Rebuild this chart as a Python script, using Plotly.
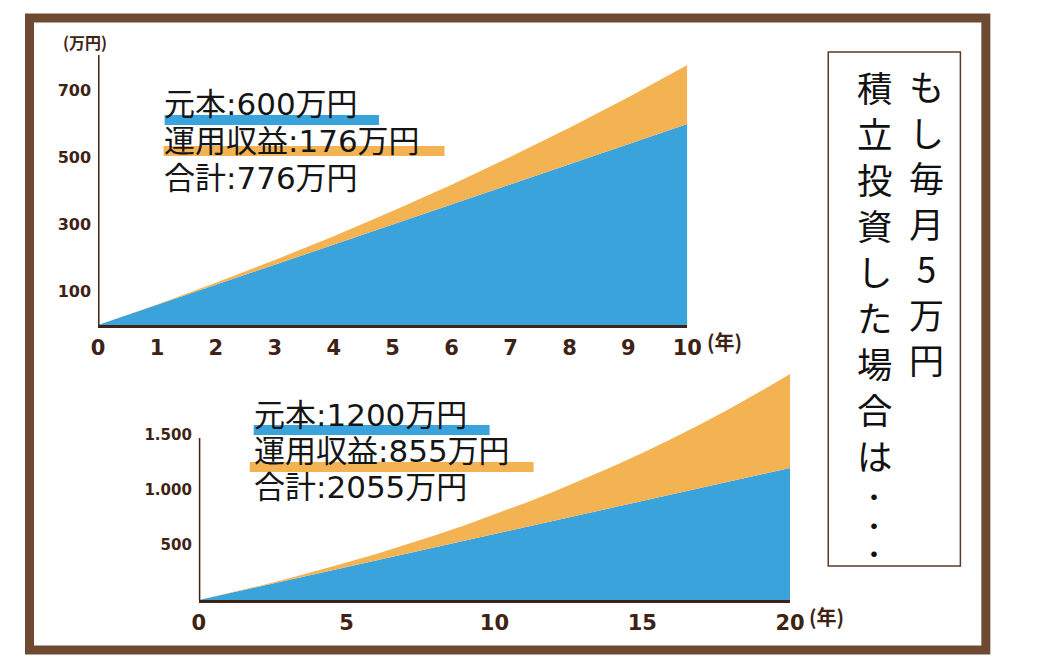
import plotly.graph_objects as go

W, H = 1040, 665

# ---- data ----
years_10 = [0, 1, 2, 3, 4, 5, 6, 7, 8, 9, 10]
principal_10 = [0, 60, 120, 180, 240, 300, 360, 420, 480, 540, 600]
total_10 = [0, 61, 126, 194, 265, 340, 419, 502, 589, 680, 776]

years_20 = [0, 1, 2, 3, 4, 5, 6, 7, 8, 9, 10, 11, 12, 13, 14, 15, 16, 17, 18, 19, 20]
principal_20 = [0, 60, 120, 180, 240, 300, 360, 420, 480, 540, 600,
                660, 720, 780, 840, 900, 960, 1020, 1080, 1140, 1200]
total_20 = [0, 61, 126, 194, 265, 340, 419, 502, 589, 680, 776,
            878, 984, 1096, 1213, 1337, 1466, 1603, 1746, 1897, 2055]

x_ticks_10 = [0, 1, 2, 3, 4, 5, 6, 7, 8, 9, 10]
x_labels_10 = ["0", "1", "2", "3", "4", "5", "6", "7", "8", "9", "10"]
y_ticks_10 = [100, 300, 500, 700]
y_labels_10 = ["100", "300", "500", "700"]

x_ticks_20 = [0, 5, 10, 15, 20]
x_labels_20 = ["0", "5", "10", "15", "20"]
y_ticks_20 = [500, 1000, 1500]
y_labels_20 = ["500", "1.000", "1.500"]

summary_10 = ["元本:600万円", "運用収益:176万円", "合計:776万円"]
summary_20 = ["元本:1200万円", "運用収益:855万円", "合計:2055万円"]
title_right = ["も", "し", "毎", "月", "5", "万", "円"]
title_left = ["積", "立", "投", "資", "し", "た", "場", "合", "は"]
title_dots = ["・", "・", "・"]

# ---- style ----
BLUE = "#3ba3dc"
ORANGE = "#f3b352"
BROWN = "#3e2315"
FRAME = "#6e4a33"
TXT_FONT = "DejaVu Sans, Noto Sans CJK JP, sans-serif"
TICK_FONT = "DejaVu Sans, sans-serif"


def px(x):
    return x / W


def py(y):
    return 1 - y / H


fig = go.Figure()

# top chart
fig.add_trace(go.Scatter(x=years_10, y=principal_10, mode="lines", fill="tozeroy",
                         fillcolor=BLUE, line=dict(width=0, color=BLUE),
                         hoverinfo="skip", xaxis="x", yaxis="y", showlegend=False))
fig.add_trace(go.Scatter(x=years_10, y=total_10, mode="lines", fill="tonexty",
                         fillcolor=ORANGE, line=dict(width=0, color=ORANGE),
                         hoverinfo="skip", xaxis="x", yaxis="y", showlegend=False))
# bottom chart
fig.add_trace(go.Scatter(x=years_20, y=principal_20, mode="lines", fill="tozeroy",
                         fillcolor=BLUE, line=dict(width=0, color=BLUE),
                         hoverinfo="skip", xaxis="x2", yaxis="y2", showlegend=False))
fig.add_trace(go.Scatter(x=years_20, y=total_20, mode="lines", fill="tonexty",
                         fillcolor=ORANGE, line=dict(width=0, color=ORANGE),
                         hoverinfo="skip", xaxis="x2", yaxis="y2", showlegend=False))

top_scale = 0.335  # px per unit
bot_scale = 0.11

xaxis_common = dict(showline=True, linecolor=BROWN, linewidth=3, ticks="",
                    showgrid=False, zeroline=False, fixedrange=True,
                    tickfont=dict(family=TICK_FONT, size=21, color=BROWN, weight="bold"),
                    ticklabelstandoff=2)
yaxis_common = dict(showline=False, ticks="", showgrid=False, zeroline=False,
                    fixedrange=True, ticklabelstandoff=6)

fig.update_layout(
    width=W, height=H,
    margin=dict(l=0, r=0, t=0, b=0),
    paper_bgcolor="white", plot_bgcolor="rgba(0,0,0,0)",
    xaxis=dict(domain=[px(93), px(695)], range=[0, 10], anchor="y",
               tickvals=x_ticks_10, ticktext=x_labels_10, **xaxis_common),
    yaxis=dict(domain=[py(325), py(47)], range=[0, (325 - 47) / top_scale], anchor="x",
               tickvals=y_ticks_10, ticktext=y_labels_10,
               tickfont=dict(family=TICK_FONT, size=16, color=BROWN, weight="bold"),
               **yaxis_common),
    xaxis2=dict(domain=[px(196), px(800)], range=[0, 20], anchor="y2",
                tickvals=x_ticks_20, ticktext=x_labels_20, **xaxis_common),
    yaxis2=dict(domain=[py(600), py(369)], range=[0, (600 - 369) / bot_scale], anchor="x2",
                tickvals=y_ticks_20, ticktext=y_labels_20,
                tickfont=dict(family=TICK_FONT, size=15, color=BROWN, weight="bold"),
                **yaxis_common),
)

shapes = []
# y axis lines
shapes.append(dict(type="line", xref="x", yref="y", x0=0, x1=0, y0=0,
                   y1=(325 - 55) / top_scale, line=dict(color=BROWN, width=3)))
shapes.append(dict(type="line", xref="x2", yref="y2", x0=0, x1=0, y0=0,
                   y1=(600 - 438) / bot_scale, line=dict(color=BROWN, width=3)))
# highlighter strokes
shapes.append(dict(type="line", xref="paper", yref="paper", x0=px(161), x1=px(380),
                   y0=py(120), y1=py(120), line=dict(color=BLUE, width=10), layer="below"))
shapes.append(dict(type="line", xref="paper", yref="paper", x0=px(160), x1=px(447),
                   y0=py(151), y1=py(151), line=dict(color=ORANGE, width=10), layer="below"))
shapes.append(dict(type="line", xref="paper", yref="paper", x0=px(252), x1=px(493),
                   y0=py(430), y1=py(430), line=dict(color=BLUE, width=10), layer="below"))
shapes.append(dict(type="line", xref="paper", yref="paper", x0=px(248), x1=px(538),
                   y0=py(467), y1=py(467), line=dict(color=ORANGE, width=10), layer="below"))
# outer frame
shapes.append(dict(type="rect", xref="paper", yref="paper", x0=px(23), x1=px(1000),
                   y0=py(650), y1=py(18), line=dict(color=FRAME, width=9)))
# text box
shapes.append(dict(type="rect", xref="paper", yref="paper", x0=px(839), x1=px(974),
                   y0=py(566), y1=py(52), line=dict(color="#5a3a2a", width=1.5)))

annotations = []
SUM_FONT = dict(family=TXT_FONT, size=31, color="#151515")
for i, t in enumerate(summary_10):
    annotations.append(dict(text=t, xref="paper", yref="paper", x=px(158), y=py(104 + i * 37),
                            xanchor="left", yanchor="middle", showarrow=False, font=SUM_FONT))
for i, t in enumerate(summary_20):
    annotations.append(dict(text=t, xref="paper", yref="paper", x=px(250), y=py(415 + i * 36),
                            xanchor="left", yanchor="middle", showarrow=False, font=SUM_FONT))

UNIT_FONT = dict(family="Noto Sans CJK JP", size=20, color=BROWN, weight="bold")
annotations.append(dict(text="(万円)", xref="paper", yref="paper", x=px(80), y=py(42),
                        showarrow=False, xanchor="center", yanchor="middle",
                        font=dict(family="Noto Sans CJK JP", size=16, color=BROWN, weight="bold")))
annotations.append(dict(text="(年)", xref="paper", yref="paper", x=px(713), y=py(341),
                        showarrow=False, xanchor="left", yanchor="middle", font=UNIT_FONT))
annotations.append(dict(text="(年)", xref="paper", yref="paper", x=px(817), y=py(616),
                        showarrow=False, xanchor="left", yanchor="middle", font=UNIT_FONT))

# vertical title text (one glyph per line)
annotations.append(dict(text="<br>".join(title_right), xref="paper", yref="paper",
                        x=px(939), y=py(222), showarrow=False, xanchor="center",
                        yanchor="middle", align="center",
                        font=dict(family="Noto Sans CJK JP", size=35, color="#111111")))
annotations.append(dict(text="<br>".join(title_left), xref="paper", yref="paper",
                        x=px(886), y=py(270), showarrow=False, xanchor="center",
                        yanchor="middle", align="center",
                        font=dict(family="Noto Sans CJK JP", size=35.4, color="#111111")))
annotations.append(dict(text="<br>".join(title_dots), xref="paper", yref="paper",
                        x=px(886), y=py(523), showarrow=False, xanchor="center",
                        yanchor="middle", align="center",
                        font=dict(family="Noto Sans CJK JP", size=22, color="#111111",
                                  weight="bold")))

fig.update_layout(shapes=shapes, annotations=annotations)
fig.write_html("out.html")
